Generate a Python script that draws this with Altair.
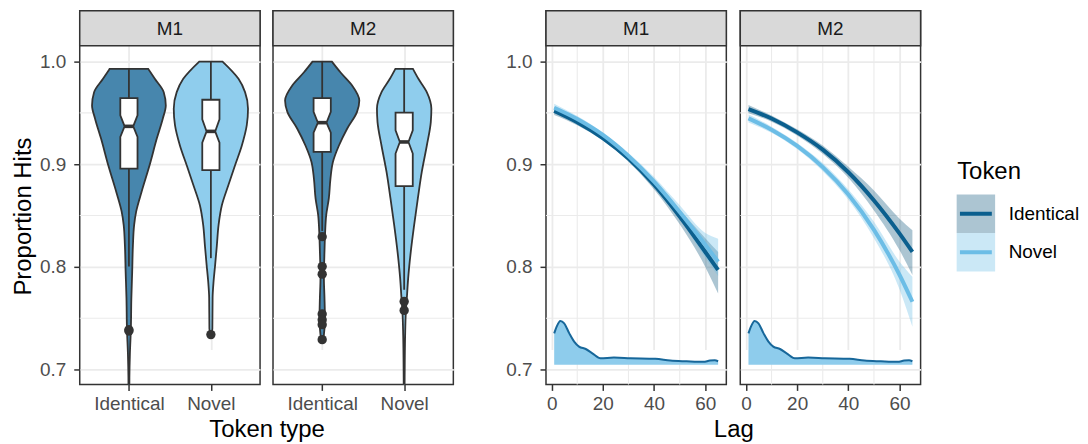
import altair as alt
import pandas as pd

# ---------------- data ----------------
models = ["M1", "M2"]
tokens = ["Identical", "Novel"]
token_x = [1, 2]
y_ticks = [0.7, 0.8, 0.9, 1.0]
y_minor = [0.75, 0.85, 0.95]
lag_ticks = [0, 20, 40, 60]
lag_minor = [10, 30, 50]
legend_title = "Token"
x_title_left = "Token type"
x_title_right = "Lag"
y_title = "Proportion Hits"

# violin outlines: value and half-width (category units)
vio_m1_identical_y = [0.9929, 0.9832, 0.9702, 0.9573, 0.9444, 0.925, 0.899, 0.873, 0.854, 0.841, 0.821, 0.795, 0.770, 0.740, 0.715, 0.692, 0.660]
vio_m1_identical_w = [0.235, 0.316, 0.425, 0.450, 0.413, 0.340, 0.252, 0.154, 0.089, 0.064, 0.049, 0.040, 0.030, 0.024, 0.012, 0.006, 0.004]
vio_m1_novel_y = [1.0, 0.9832, 0.9702, 0.954, 0.938, 0.918, 0.899, 0.880, 0.860, 0.841, 0.821, 0.802, 0.786, 0.770, 0.740, 0.733]
vio_m1_novel_w = [0.142, 0.337, 0.417, 0.453, 0.438, 0.377, 0.295, 0.215, 0.134, 0.094, 0.073, 0.052, 0.033, 0.021, 0.018, 0.004]
vio_m2_identical_y = [1.0, 0.9896, 0.9767, 0.9621, 0.951, 0.9346, 0.918, 0.902, 0.886, 0.8667, 0.8505, 0.834, 0.8149, 0.789, 0.770, 0.750, 0.734, 0.7275]
vio_m2_identical_w = [0.118, 0.222, 0.365, 0.453, 0.425, 0.304, 0.203, 0.130, 0.101, 0.081, 0.049, 0.036, 0.028, 0.021, 0.028, 0.033, 0.021, 0.006]
vio_m2_novel_y = [0.9929, 0.9832, 0.9702, 0.954, 0.941, 0.918, 0.8925, 0.8667, 0.841, 0.8149, 0.789, 0.770, 0.7566, 0.734, 0.692, 0.660]
vio_m2_novel_w = [0.107, 0.174, 0.276, 0.332, 0.325, 0.276, 0.215, 0.167, 0.122, 0.081, 0.049, 0.033, 0.021, 0.012, 0.006, 0.004]

# notched boxplot statistics, order: M1 Identical, M1 Novel, M2 Identical, M2 Novel
box_model = ["M1", "M1", "M2", "M2"]
box_token = ["Identical", "Novel", "Identical", "Novel"]
box_q1 = [0.8958, 0.8942, 0.912, 0.8786]
box_notch_lo = [0.9265, 0.921, 0.9308, 0.9104]
box_median = [0.9369, 0.932, 0.9405, 0.9217]
box_notch_hi = [0.9476, 0.9437, 0.951, 0.933]
box_q3 = [0.9644, 0.9628, 0.9644, 0.9502]
whisker_lo = [0.8003, 0.8085, 0.835, 0.7777]
whisker_hi = [0.9929, 1.0, 1.0, 0.9929]

out_m1_identical = [0.7388, 0.7375]
out_m1_novel = [0.734]
out_m2_identical = [0.8294, 0.8003, 0.7929, 0.7541, 0.7485, 0.7437, 0.7291]
out_m2_novel = [0.7663, 0.7576]

# fitted curves over lag
lags = [1, 10, 20, 30, 40, 50, 60, 65]
m1_identical_fit = [0.952, 0.941, 0.9255, 0.9055, 0.880, 0.849, 0.8145, 0.797]
m1_identical_lo = [0.948, 0.938, 0.923, 0.9025, 0.8755, 0.8415, 0.800, 0.774]
m1_identical_hi = [0.956, 0.944, 0.928, 0.9085, 0.8845, 0.856, 0.828, 0.8145]
m1_novel_fit = [0.955, 0.944, 0.9285, 0.908, 0.883, 0.8535, 0.8215, 0.805]
m1_novel_lo = [0.951, 0.941, 0.926, 0.905, 0.8785, 0.8465, 0.809, 0.791]
m1_novel_hi = [0.959, 0.947, 0.931, 0.911, 0.8875, 0.860, 0.833, 0.8275]
m2_identical_fit = [0.9537, 0.9445, 0.931, 0.9142, 0.8922, 0.8647, 0.8324, 0.8146]
m2_identical_lo = [0.9497, 0.9415, 0.928, 0.9102, 0.8869, 0.855, 0.8162, 0.792]
m2_identical_hi = [0.9577, 0.9475, 0.934, 0.9182, 0.8975, 0.8745, 0.8469, 0.8356]
m2_novel_fit = [0.9447, 0.9336, 0.9178, 0.8972, 0.8705, 0.836, 0.7921, 0.766]
m2_novel_lo = [0.9407, 0.9306, 0.9148, 0.8932, 0.8655, 0.828, 0.778, 0.7417]
m2_novel_hi = [0.9487, 0.9366, 0.9208, 0.9012, 0.8755, 0.844, 0.805, 0.7903]

# lag density drawn along the bottom of the right panels
dens_lag = [1, 2, 3.4, 4.9, 6.9, 8.8, 10.7, 13.3, 15.9, 19.1, 24.3, 30.8, 40.5, 46.3, 52.7, 59.2, 61.8, 63.7, 65]
dens_val = [0.7352, 0.742, 0.7473, 0.745, 0.7352, 0.7272, 0.7223, 0.720, 0.7158, 0.711, 0.7116, 0.711, 0.7104, 0.7087, 0.708, 0.7075, 0.7087, 0.709, 0.7081]
dens_base = 0.7046

# ---------------- styling ----------------
PW = 181
PH = 375
STRIP_H = 35
BOX_W = 0.105
violin_colors = ["#4786AD", "#8FCDED"]
line_colors = ["#0B5F8E", "#6CBDE6"]
ribbon_colors = ["#10587F", "#6BBDE5"]
DARK = "#333333"
GRID = "#EBEBEB"
OUTLINE = 1.8

YS = alt.Scale(domain=[0.6855, 1.0155], range=[PH, STRIP_H], nice=False, zero=False)
XL = alt.Scale(domain=[0.4, 2.6], nice=False, zero=False)
XR = alt.Scale(domain=[-2.2, 68.2], nice=False, zero=False)
LABEL_EXPR = f"datum.value == {token_x[0]} ? '{tokens[0]}' : '{tokens[1]}'"

# ---------------- tables ----------------
vio_specs = [("M1", "Identical", vio_m1_identical_y, vio_m1_identical_w),
             ("M1", "Novel", vio_m1_novel_y, vio_m1_novel_w),
             ("M2", "Identical", vio_m2_identical_y, vio_m2_identical_w),
             ("M2", "Novel", vio_m2_novel_y, vio_m2_novel_w)]
rows = []
for m, t, ys, ws in vio_specs:
    p = token_x[tokens.index(t)]
    for yv, w in zip(ys, ws):
        rows.append(dict(model=m, token=t, y=yv, xlo=p - w, xhi=p + w))
vio_df = pd.DataFrame(rows)

box_rows, stat_rows = [], []
for i in range(4):
    p = token_x[tokens.index(box_token[i])]
    for yv, w in zip([box_q1[i], box_notch_lo[i], box_median[i], box_notch_hi[i], box_q3[i]],
                     [BOX_W, BOX_W, BOX_W / 2, BOX_W, BOX_W]):
        box_rows.append(dict(model=box_model[i], token=box_token[i], y=yv, xlo=p - w, xhi=p + w))
    stat_rows.append(dict(model=box_model[i], token=box_token[i], pos=p,
                          wlo=whisker_lo[i], whi=whisker_hi[i], med=box_median[i],
                          mlo=p - BOX_W / 2, mhi=p + BOX_W / 2))
box_df = pd.DataFrame(box_rows)
stat_df = pd.DataFrame(stat_rows)

out_rows = []
for m, t, vals in [("M1", "Identical", out_m1_identical), ("M1", "Novel", out_m1_novel),
                   ("M2", "Identical", out_m2_identical), ("M2", "Novel", out_m2_novel)]:
    for v in vals:
        out_rows.append(dict(model=m, token=t, pos=token_x[tokens.index(t)], y=v))
out_df = pd.DataFrame(out_rows)

cur_rows = []
for m, t, f, lo, hi in [("M1", "Identical", m1_identical_fit, m1_identical_lo, m1_identical_hi),
                        ("M1", "Novel", m1_novel_fit, m1_novel_lo, m1_novel_hi),
                        ("M2", "Identical", m2_identical_fit, m2_identical_lo, m2_identical_hi),
                        ("M2", "Novel", m2_novel_fit, m2_novel_lo, m2_novel_hi)]:
    for lg, a, b, c in zip(lags, f, lo, hi):
        cur_rows.append(dict(model=m, token=t, lag=lg, fit=a, lo=b, hi=c))
cur_df = pd.DataFrame(cur_rows)

dens_df = pd.DataFrame({"lag": dens_lag, "dens": dens_val, "base": [dens_base] * len(dens_lag)})
ygrid_df = pd.DataFrame({"v": y_minor})
xgrid_df = pd.DataFrame({"v": lag_minor})


def strip_layers(model):
    sdf = pd.DataFrame({"label": [model]})
    rect = alt.Chart(sdf).mark_rect(fill="#D9D9D9", stroke=DARK, strokeWidth=1.5).encode(
        x=alt.value(0), x2=alt.value(PW), y=alt.value(0), y2=alt.value(STRIP_H))
    txt = alt.Chart(sdf).mark_text(fontSize=19, color="#1A1A1A", baseline="middle").encode(
        x=alt.value(PW / 2), y=alt.value(STRIP_H / 2 + 1), text="label:N")
    return [rect, txt]


def y_axis(first):
    if first:
        return alt.Axis(values=y_ticks, format=".1f", title=y_title, titleX=-49, titleY=206,
                        titleBaseline="alphabetic", titleAngle=270, titleAlign="center")
    return alt.Axis(values=y_ticks, labels=False, ticks=False, title=None)


def left_panel(model, first):
    AX = alt.Axis(values=token_x, labelExpr=LABEL_EXPR,
                  title=x_title_left if first else None,
                  titleX=(2 * PW + 13) / 2, titleY=52, titleBaseline="alphabetic")
    AY = y_axis(first)
    fill = alt.Fill("token:N", scale=alt.Scale(domain=tokens, range=violin_colors), legend=None)
    ygrid = alt.Chart(ygrid_df).mark_rule(color=GRID, strokeWidth=1.1).encode(
        y=alt.Y("v:Q", scale=YS, axis=AY))
    vio = alt.Chart(vio_df[vio_df.model == model]).mark_area(
        orient="horizontal", interpolate="monotone", stroke=DARK, strokeWidth=OUTLINE, clip=True).encode(
        y=alt.Y("y:Q", scale=YS, axis=AY),
        x=alt.X("xlo:Q", scale=XL, axis=AX), x2="xhi:Q", fill=fill)
    sd = stat_df[stat_df.model == model]
    whisk = alt.Chart(sd).mark_rule(color=DARK, strokeWidth=OUTLINE).encode(
        x=alt.X("pos:Q", scale=XL, axis=AX), y=alt.Y("wlo:Q", scale=YS, axis=AY), y2="whi:Q")
    box = alt.Chart(box_df[box_df.model == model]).mark_area(
        orient="horizontal", fill="white", stroke=DARK, strokeWidth=OUTLINE).encode(
        y=alt.Y("y:Q", scale=YS, axis=AY),
        x=alt.X("xlo:Q", scale=XL, axis=AX), x2="xhi:Q", detail="token:N")
    med = alt.Chart(sd).mark_rule(color=DARK, strokeWidth=3.6).encode(
        x=alt.X("mlo:Q", scale=XL, axis=AX), x2="mhi:Q", y=alt.Y("med:Q", scale=YS, axis=AY))
    outs = alt.Chart(out_df[out_df.model == model]).mark_circle(size=88, color=DARK, opacity=1).encode(
        x=alt.X("pos:Q", scale=XL, axis=AX), y=alt.Y("y:Q", scale=YS, axis=AY))
    return alt.layer(ygrid, vio, whisk, box, med, outs, *strip_layers(model)).properties(
        width=PW, height=PH)


def right_panel(model, first):
    AX = alt.Axis(values=lag_ticks, title=x_title_right if first else None,
                  titleX=(2 * PW + 14) / 2, titleY=52, titleBaseline="alphabetic")
    AY = alt.Axis(values=y_ticks, format=".1f", title=None) if first else y_axis(False)
    ygrid = alt.Chart(ygrid_df).mark_rule(color=GRID, strokeWidth=1.1).encode(
        y=alt.Y("v:Q", scale=YS, axis=AY))
    xgrid = alt.Chart(xgrid_df).mark_rule(color=GRID, strokeWidth=1.1).encode(
        x=alt.X("v:Q", scale=XR, axis=AX))
    cd = cur_df[cur_df.model == model]
    rib = alt.Chart(cd).mark_area(opacity=0.35, interpolate="monotone").encode(
        x=alt.X("lag:Q", scale=XR, axis=AX), y=alt.Y("lo:Q", scale=YS, axis=AY), y2="hi:Q",
        fill=alt.Fill("token:N", scale=alt.Scale(domain=tokens, range=ribbon_colors), legend=None))
    ln = alt.Chart(cd).mark_line(strokeWidth=4, interpolate="monotone").encode(
        x=alt.X("lag:Q", scale=XR, axis=AX), y=alt.Y("fit:Q", scale=YS, axis=AY),
        stroke=alt.Stroke("token:N", scale=alt.Scale(domain=tokens, range=line_colors), legend=None))
    da = alt.Chart(dens_df).mark_area(color="#8ECCEC", opacity=1, interpolate="monotone").encode(
        x=alt.X("lag:Q", scale=XR, axis=AX), y=alt.Y("base:Q", scale=YS, axis=AY), y2="dens:Q")
    dl = alt.Chart(dens_df).mark_line(color="#17679A", strokeWidth=2, interpolate="monotone").encode(
        x=alt.X("lag:Q", scale=XR, axis=AX), y=alt.Y("dens:Q", scale=YS, axis=AY))
    return alt.layer(ygrid, xgrid, rib, ln, da, dl, *strip_layers(model)).properties(
        width=PW, height=PH)


def spacer(w):
    return alt.Chart(pd.DataFrame({"s": [0]})).mark_point(opacity=0).properties(
        width=w, height=PH, view=alt.ViewBackground(stroke="transparent"))


# manual legend
leg_df = pd.DataFrame({"token": tokens, "idx": [0, 1]})
LY = alt.Scale(domain=[0, 1], range=[203.7, 242.3])
leg_key = alt.Chart(leg_df).mark_square(size=1490, opacity=0.35).encode(
    x=alt.value(19.5), y=alt.Y("idx:Q", scale=LY, axis=None),
    fill=alt.Fill("token:N", scale=alt.Scale(domain=tokens, range=ribbon_colors), legend=None))
leg_line = alt.Chart(leg_df).mark_rule(strokeWidth=4).encode(
    x=alt.value(3.5), x2=alt.value(35.5), y=alt.Y("idx:Q", scale=LY, axis=None),
    stroke=alt.Stroke("token:N", scale=alt.Scale(domain=tokens, range=line_colors), legend=None))
leg_text = alt.Chart(leg_df).mark_text(align="left", baseline="middle", fontSize=19, color="#000000").encode(
    x=alt.value(52.4), y=alt.Y("idx:Q", scale=LY, axis=None), text="token:N")
leg_title = alt.Chart(pd.DataFrame({"t": [legend_title]})).mark_text(
    align="left", baseline="alphabetic", fontSize=24, color="#000000").encode(
    x=alt.value(0.7), y=alt.value(169.3), text="t:N")
legend = alt.layer(leg_key, leg_line, leg_text, leg_title).properties(
    width=118, height=PH, view=alt.ViewBackground(stroke="transparent"))

chart = alt.hconcat(
    left_panel("M1", True), spacer(13), left_panel("M2", False), spacer(93),
    right_panel("M1", True), spacer(14), right_panel("M2", False), spacer(36), legend,
    spacing=0, bounds="flush",
).resolve_scale(
    fill="independent", stroke="independent"
).properties(
    padding={"left": 3, "top": 0, "right": 0, "bottom": 0}
).configure(
    font="Liberation Sans"
).configure_view(
    stroke=DARK, strokeWidth=1.5
).configure_axis(
    labelFontSize=19, labelColor="#4D4D4D", labelFlush=False, labelPadding=4,
    tickColor=DARK, tickWidth=1.5, tickSize=6, domain=False,
    gridColor=GRID, gridWidth=1.8,
    titleFontSize=24, titleFontWeight="normal", titleColor="#000000",
).configure_axisY(labelPadding=8)

chart.save("out.html", embed_options={"renderer": "svg", "actions": False})
